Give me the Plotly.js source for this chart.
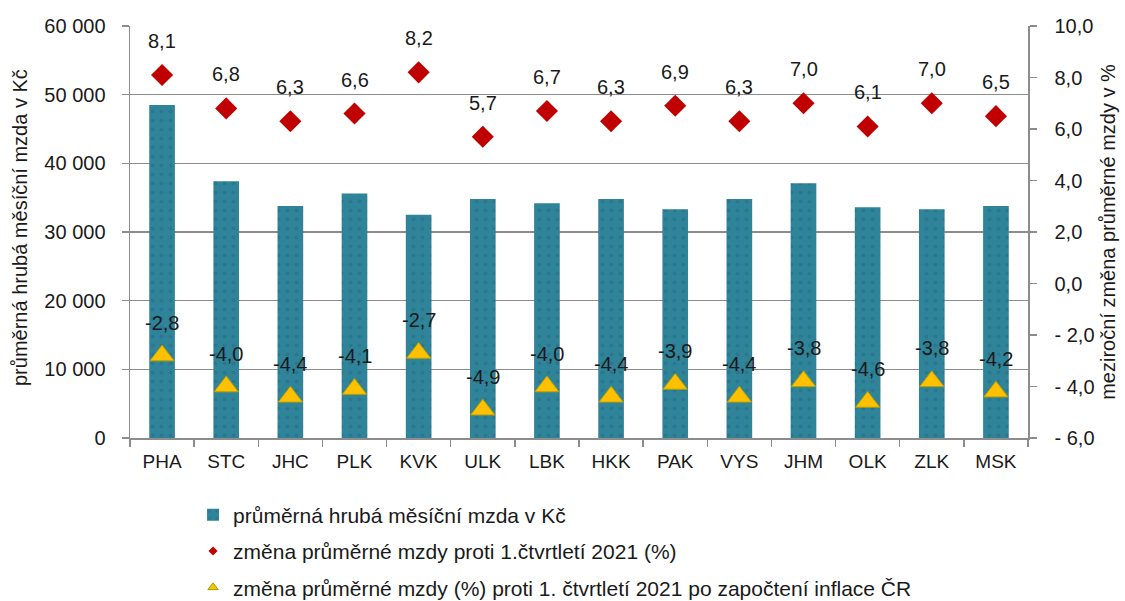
<!DOCTYPE html>
<html>
<head>
<meta charset="utf-8">
<script src="https://cdn.plot.ly/plotly-3.0.1.min.js"></script>
<style>html,body{margin:0;padding:0;background:#fff;}#chart{width:1125px;height:601px;}</style>
</head>
<body>
<div id="chart"></div>
<script>
const regions = ["PHA","STC","JHC","PLK","KVK","ULK","LBK","HKK","PAK","VYS","JHM","OLK","ZLK","MSK"];
const wage = [48500,37400,33800,35600,32500,34800,34200,34800,33300,34800,37100,33600,33300,33800];
const nominalChange = [8.1,6.8,6.3,6.6,8.2,5.7,6.7,6.3,6.9,6.3,7.0,6.1,7.0,6.5];
const realChange = [-2.8,-4.0,-4.4,-4.1,-2.7,-4.9,-4.0,-4.4,-3.9,-4.4,-3.8,-4.6,-3.8,-4.2];
const leftTickVals = [0,10000,20000,30000,40000,50000,60000];
const leftTickText = ["0","10 000","20 000","30 000","40 000","50 000","60 000"];
const rightTickVals = [-6,-4,-2,0,2,4,6,8,10];
const rightTickText = ["- 6,0","- 4,0","- 2,0","0,0","2,0","4,0","6,0","8,0","10,0"];
const seriesNames = ["průměrná hrubá měsíční mzda v Kč","změna průměrné mzdy proti 1.čtvrtletí 2021 (%)","změna průměrné mzdy (%) proti 1. čtvrtletí 2021 po započtení inflace ČR"];
const leftTitle = "průměrná hrubá měsíční mzda v Kč";
const rightTitle = "meziroční změna průměrné mzdy v %";

const fmt = v => v.toFixed(1).replace('.', ',');
const FONT = "Liberation Sans, Arial, sans-serif";
const TXT = '#1a1a1a';
const AX = '#8c8c8c';

const traces = [
  {type:'bar', x:regions, y:wage, name:seriesNames[0], legendgroup:'a',
   marker:{color:'#2F849A', pattern:{shape:'.', fgcolor:'#2A7890', bgcolor:'#2F849A', size:9, solidity:0.15}}},
  // small-marker copies used for the legend swatches (hidden under the big markers)
  {type:'scatter', mode:'markers', x:regions, y:nominalChange, yaxis:'y2', name:seriesNames[1], legendgroup:'b',
   marker:{symbol:'diamond', color:'#C00000', size:7}},
  {type:'scatter', mode:'markers', x:regions, y:realChange, yaxis:'y2', name:seriesNames[2], legendgroup:'c',
   marker:{symbol:'triangle-up', color:'#FFC000', size:9, line:{color:'#9AA000', width:1}}},
  {type:'scatter', mode:'markers', x:regions, y:nominalChange, yaxis:'y2', showlegend:false,
   marker:{symbol:'diamond', color:'#C00000', size:17}},
  {type:'scatter', mode:'markers', x:regions, y:realChange, yaxis:'y2', showlegend:false,
   marker:{symbol:'triangle-up', color:'#FFC000', size:21, line:{color:'#B8A000', width:1}}}
];

const annotations = [];
regions.forEach((r,i) => {
  annotations.push({x:r, y:nominalChange[i], xref:'x', yref:'y2', text:fmt(nominalChange[i]), showarrow:false, yshift:34, yanchor:'middle', font:{family:FONT, size:20, color:TXT}});
  annotations.push({x:r, y:realChange[i], xref:'x', yref:'y2', text:fmt(realChange[i]), showarrow:false, yshift:33, yanchor:'middle', font:{family:FONT, size:20, color:TXT}});
});
// left axis title
annotations.push({xref:'paper', yref:'paper', x:0, y:0.5, xanchor:'center', yanchor:'middle', xshift:-110, yshift:4,
  text:leftTitle, textangle:-90, showarrow:false, font:{family:FONT, size:20, color:TXT}});

const layout = {
  width:1125, height:601,
  margin:{l:130, r:97, t:26, b:163, autoexpand:false},
  paper_bgcolor:'#fff', plot_bgcolor:'#fff',
  font:{family:FONT, size:20, color:TXT},
  bargap:0.6,
  showlegend:true,
  legend:{xref:'container', yref:'container', x:0.1716, xanchor:'left', y:0.177, yanchor:'top',
          traceorder:'grouped', tracegroupgap:6,
          font:{family:FONT, size:21, color:TXT}, bgcolor:'rgba(0,0,0,0)'},
  xaxis:{type:'category', range:[-0.5, 13.5], automargin:false, showline:true, linecolor:AX, linewidth:1.5,
         ticks:'outside', tickson:'boundaries', ticklen:7, tickcolor:AX, tickwidth:1.5, showgrid:false,
         tickangle:0, ticklabelstandoff:6, tickfont:{family:FONT, size:19, color:TXT}},
  yaxis:{range:[0,60000], automargin:false, tickvals:leftTickVals, ticktext:leftTickText, showline:true, linecolor:AX, linewidth:1.5,
         ticks:'outside', ticklen:7, tickcolor:AX, tickwidth:1.5, showgrid:true, gridcolor:AX, gridwidth:1.5,
         zeroline:false, ticklabelstandoff:12, tickfont:{family:FONT, size:20, color:TXT}},
  yaxis2:{range:[-6,10], automargin:false, overlaying:'y', side:'right', tickvals:rightTickVals, ticktext:rightTickText, showline:true,
          linecolor:AX, linewidth:1.5, ticks:'outside', ticklen:7, tickcolor:AX, tickwidth:1.5, showgrid:false,
          zeroline:false, ticklabelstandoff:14, tickfont:{family:FONT, size:20, color:TXT},
          title:{text:rightTitle, font:{family:FONT, size:20, color:TXT}}},
  annotations:annotations
};

Plotly.newPlot('chart', traces, layout, {displayModeBar:false, staticPlot:true});
</script>
</body>
</html>
